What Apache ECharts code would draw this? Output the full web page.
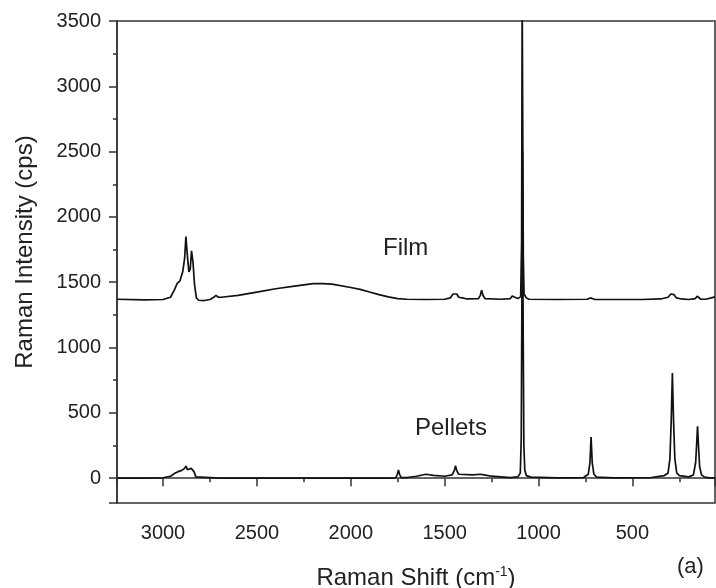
<!DOCTYPE html>
<html>
<head>
<meta charset="utf-8">
<script src="https://cdn.jsdelivr.net/npm/echarts@6/dist/echarts.min.js"></script>
<style>
  html, body { margin: 0; padding: 0; background: #fff; }
  #chart { width: 716px; height: 588px; }
</style>
</head>
<body>
<div id="chart"></div>
<script>
// Raman shift (cm-1) and intensity (cps)
const filmShift = [3245, 3100, 3000, 2960, 2940, 2925, 2910, 2895, 2885, 2878, 2870, 2862, 2855, 2848, 2840, 2832, 2822, 2810, 2780, 2750, 2730, 2718, 2705, 2690, 2600, 2500, 2400, 2300, 2200, 2150, 2100, 2000, 1950, 1900, 1850, 1800, 1750, 1700, 1600, 1500, 1470, 1455, 1445, 1435, 1425, 1400, 1380, 1320, 1310, 1303, 1296, 1285, 1200, 1150, 1140, 1133, 1126, 1110, 1095, 1090, 1087, 1084, 1081, 1077, 1072, 1065, 1050, 900, 740, 725, 719, 712, 700, 450, 350, 310, 295, 287, 278, 265, 240, 200, 165, 155, 147, 135, 110, 80, 60];
const filmValue = [1370, 1365, 1368, 1385, 1440, 1490, 1510, 1580, 1680, 1850, 1700, 1580, 1600, 1740, 1650, 1480, 1380, 1362, 1360, 1368, 1385, 1400, 1385, 1385, 1400, 1425, 1450, 1470, 1490, 1490, 1485, 1460, 1445, 1425, 1405, 1388, 1375, 1370, 1368, 1370, 1380, 1410, 1422, 1410, 1385, 1378, 1372, 1375, 1400, 1440, 1400, 1375, 1370, 1375, 1395, 1405, 1385, 1375, 1390, 1800, 3700, 3700, 1700, 1410, 1405, 1380, 1370, 1368, 1370, 1380, 1388, 1375, 1368, 1368, 1372, 1385, 1410, 1425, 1405, 1380, 1372, 1368, 1375, 1393, 1378, 1370, 1370, 1380, 1388];

const pelletShift = [3245, 3100, 3000, 2960, 2940, 2920, 2900, 2885, 2878, 2870, 2860, 2850, 2845, 2835, 2825, 2815, 2700, 2500, 2000, 1800, 1760, 1752, 1746, 1740, 1732, 1700, 1650, 1600, 1560, 1500, 1460, 1448, 1442, 1436, 1425, 1350, 1310, 1300, 1290, 1250, 1150, 1110, 1097, 1092, 1088, 1085, 1082, 1078, 1073, 1065, 1040, 900, 760, 735, 726, 720, 714, 705, 690, 600, 400, 330, 310, 300, 293, 287, 281, 274, 264, 250, 200, 175, 163, 157, 153, 148, 142, 132, 115, 90, 60];
const pelletValue = [0, 0, 3, 15, 35, 50, 60, 75, 92, 65, 55, 75, 78, 50, 10, 2, 0, 0, 0, 0, 3, 30, 62, 30, 5, 5, 15, 30, 22, 15, 25, 60, 95, 60, 30, 25, 30, 40, 25, 15, 5, 10, 40, 300, 1500, 2500, 1200, 250, 60, 20, 8, 3, 5, 30, 120, 315, 120, 30, 8, 3, 5, 20, 40, 150, 450, 805, 450, 150, 40, 20, 10, 25, 120, 280, 398, 250, 90, 25, 8, 3, 2];

function pairs(xs, ys) {
  return xs.map((x, i) => [x, ys[i]]);
}

const font = "'Liberation Sans', Arial, sans-serif";
const axisColor = "#333";

let chart = echarts.init(document.getElementById("chart"));
chart.setOption({
  animation: false,
  backgroundColor: "#fff",
  grid: {
    left: 117,
    right: 1,
    top: 21,
    bottom: 85,
    outerBoundsMode: "none",
    containLabel: false,
    show: true,
    borderColor: axisColor,
    borderWidth: 1.5,
    backgroundColor: "transparent"
  },
  xAxis: {
    type: "value",
    inverse: true,
    min: 60,
    max: 3245,
    splitNumber: 6,
    name: "{n|Raman Shift (cm}{s|-1}{n|)}",
    nameLocation: "middle",
    nameGap: 62,
    nameTextStyle: {
      rich: {
        n: { fontFamily: font, fontSize: 24, color: "#222" },
        s: { fontFamily: font, fontSize: 14, color: "#222", verticalAlign: "top", padding: [0, 0, 12, 0] }
      }
    },
    axisLine: { show: true, lineStyle: { color: axisColor, width: 1.5 } },
    axisTick: { show: true, inside: false, length: 8, lineStyle: { color: axisColor, width: 1.5 } },
    minorTick: { show: true, splitNumber: 2, length: 4, lineStyle: { color: axisColor, width: 1.5 } },
    splitLine: { show: false },
    axisLabel: {
      fontFamily: font,
      fontSize: 20,
      color: "#222",
      margin: 20,
      showMinLabel: false,
      showMaxLabel: false,
      formatter: v => String(v)
    }
  },
  yAxis: {
    type: "value",
    min: -190,
    max: 3500,
    splitNumber: 7,
    name: "Raman Intensity (cps)",
    nameLocation: "middle",
    nameGap: 80,
    nameTextStyle: { fontFamily: font, fontSize: 24, color: "#222", padding: [0, 0, 0, 20] },
    axisLine: { show: true, lineStyle: { color: axisColor, width: 1.5 } },
    axisTick: { show: true, inside: false, length: 8, lineStyle: { color: axisColor, width: 1.5 } },
    minorTick: { show: true, splitNumber: 2, length: 4, lineStyle: { color: axisColor, width: 1.5 } },
    splitLine: { show: false },
    axisLabel: {
      fontFamily: font,
      fontSize: 20,
      color: "#222",
      margin: 16,
      showMinLabel: false,
      formatter: v => String(v)
    }
  },
  graphic: [
    { type: "text", left: 383, top: 236, style: { text: "Film", font: "24px " + font, fill: "#222" } },
    { type: "text", left: 415, top: 416, style: { text: "Pellets", font: "24px " + font, fill: "#222" } },
    { type: "text", left: 677, top: 556, style: { text: "(a)", font: "22px " + font, fill: "#222" } }
  ],
  series: [
    {
      name: "Film",
      type: "line",
      data: pairs(filmShift, filmValue),
      showSymbol: false,
      clip: true,
      lineStyle: { color: "#111", width: 1.7 }
    },
    {
      name: "Pellets",
      type: "line",
      data: pairs(pelletShift, pelletValue),
      showSymbol: false,
      clip: true,
      lineStyle: { color: "#111", width: 1.7 }
    }
  ]
});
</script>
</body>
</html>
